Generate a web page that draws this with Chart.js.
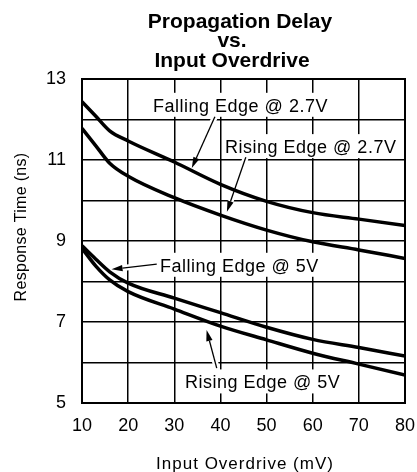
<!DOCTYPE html>
<html>
<head>
<meta charset="utf-8">
<script src="https://cdn.jsdelivr.net/npm/chart.js@4.4.1/dist/chart.umd.min.js"></script>
<style>
  html, body { margin: 0; padding: 0; background: #fff; }
  #chart { display: block; }
</style>
</head>
<body>
<canvas id="chart" width="417" height="472"></canvas>
<script>
// values
const overdrive = [10, 13, 16, 20, 30, 40, 50, 60, 70, 80];
const falling27 = [12.44, 12.08, 11.72, 11.47, 10.95, 10.40, 9.98, 9.70, 9.54, 9.38];
const rising27 = [11.78, 11.35, 10.92, 10.60, 10.07, 9.64, 9.27, 8.98, 8.78, 8.57];
const falling5 = [8.88, 8.55, 8.24, 7.96, 7.59, 7.23, 6.87, 6.57, 6.37, 6.16];
const rising5 = [8.82, 8.38, 8.04, 7.75, 7.32, 6.90, 6.56, 6.23, 5.96, 5.69];
const xTicks = [10, 20, 30, 40, 50, 60, 70, 80];
const yTickLabels = [5, 7, 9, 11, 13];

// callout text (left, baseline) and arrow tail -> tip, in axis units
const callouts = [
  { text: 'Falling Edge @ 2.7V', at: [25.4, 12.19], from: [38.8, 12.07], to: [33.8, 10.80] },
  { text: 'Rising Edge @ 2.7V', at: [41.0, 11.17], from: [45.5, 11.07], to: [41.4, 9.72] },
  { text: 'Falling Edge @ 5V', at: [26.9, 8.24], from: [26.2, 8.43], to: [16.4, 8.30] },
  { text: 'Rising Edge @ 5V', at: [32.3, 5.36], from: [39.2, 5.86], to: [37.0, 6.80] }
];

const labelFont = '18px "Liberation Sans", Arial, sans-serif';

function points(values) {
  return overdrive.map((x, i) => ({ x: x, y: values[i] }));
}

function line(ctx, x0, y0, x1, y1) {
  ctx.beginPath();
  ctx.moveTo(x0, y0);
  ctx.lineTo(x1, y1);
  ctx.stroke();
}

function arrowGeom(chart, c) {
  const { x, y } = chart.scales;
  const x0 = x.getPixelForValue(c.from[0]), y0 = y.getPixelForValue(c.from[1]);
  const x1 = x.getPixelForValue(c.to[0]), y1 = y.getPixelForValue(c.to[1]);
  const ang = Math.atan2(y1 - y0, x1 - x0);
  const len = 11, half = 3.2;
  const bx = x1 - Math.cos(ang) * len, by = y1 - Math.sin(ang) * len;
  const nx = -Math.sin(ang) * half, ny = Math.cos(ang) * half;
  return { x0, y0, x1, y1, bx, by, nx, ny };
}

// white boxes under the callouts and white halos round the arrows
const underlay = {
  id: 'underlay',
  beforeDatasetsDraw(chart) {
    const { ctx } = chart;
    const { x, y } = chart.scales;
    ctx.save();
    ctx.font = labelFont;
    ctx.letterSpacing = '0.5px';
    callouts.forEach(c => {
      const tx = x.getPixelForValue(c.at[0]), ty = y.getPixelForValue(c.at[1]);
      const w = ctx.measureText(c.text).width;
      ctx.fillStyle = '#fff';
      ctx.fillRect(tx - 3, ty - 19, w + 6, 24);
      const g = arrowGeom(chart, c);
      ctx.strokeStyle = '#fff';
      ctx.lineWidth = 6;
      line(ctx, g.x0, g.y0, g.bx, g.by);
    });
    ctx.restore();
  },
  afterDatasetsDraw(chart) {
    const { ctx, chartArea: a } = chart;
    const { x, y } = chart.scales;
    ctx.save();
    ctx.strokeStyle = '#000';
    ctx.lineWidth = 2;
    ctx.strokeRect(a.left, a.top, a.right - a.left, a.bottom - a.top);
    ctx.font = labelFont;
    ctx.letterSpacing = '0.5px';
    ctx.fillStyle = '#000';
    ctx.textBaseline = 'alphabetic';
    ctx.textAlign = 'left';
    callouts.forEach(c => {
      ctx.fillText(c.text, x.getPixelForValue(c.at[0]), y.getPixelForValue(c.at[1]));
      const g = arrowGeom(chart, c);
      ctx.lineWidth = 1.3;
      line(ctx, g.x0, g.y0, g.bx, g.by);
      ctx.beginPath();
      ctx.moveTo(g.x1, g.y1);
      ctx.lineTo(g.bx + g.nx, g.by + g.ny);
      ctx.lineTo(g.bx - g.nx, g.by - g.ny);
      ctx.closePath();
      ctx.fill();
    });
    ctx.restore();
  },
  afterDraw(chart) {
    const { ctx } = chart;
    ctx.save();
    ctx.fillStyle = '#000';
    ctx.textAlign = 'center';
    ctx.textBaseline = 'alphabetic';
    ctx.font = 'bold 21px "Liberation Sans", Arial, sans-serif';
    ctx.fillText('Propagation Delay', 240, 28);
    ctx.fillText('vs.', 232, 47);
    ctx.fillText('Input Overdrive', 232, 67);

    ctx.font = '17px "Liberation Sans", Arial, sans-serif';
    ctx.letterSpacing = '1px';
    ctx.fillText('Input Overdrive (mV)', 245, 469);

    ctx.letterSpacing = '0.3px';
    ctx.font = '16px "Liberation Sans", Arial, sans-serif';
    ctx.translate(26, 227);
    ctx.rotate(-Math.PI / 2);
    ctx.fillText('Response Time (ns)', 0, 0);
    ctx.restore();
  }
};

function series(values) {
  return {
    data: points(values),
    borderColor: '#000',
    borderWidth: 3.5,
    pointRadius: 0,
    fill: false,
    cubicInterpolationMode: 'monotone'
  };
}

const tickFont = { family: '"Liberation Sans", Arial, sans-serif', size: 18 };

new Chart(document.getElementById('chart'), {
  type: 'line',
  data: {
    datasets: [series(falling27), series(rising27), series(falling5), series(rising5)]
  },
  options: {
    responsive: false,
    animation: false,
    devicePixelRatio: 1,
    layout: { padding: { left: 0, right: 12, top: 79, bottom: 0 } },
    plugins: { legend: { display: false }, tooltip: { enabled: false } },
    scales: {
      x: {
        type: 'linear',
        min: 10,
        max: 80,
        afterBuildTicks: scale => { scale.ticks = xTicks.map(v => ({ value: v })); },
        afterFit: scale => {
          scale.height = 69;
          scale.paddingLeft = 0;
          scale.paddingRight = 0;
        },
        ticks: { color: '#000', font: tickFont, padding: 12, maxRotation: 0 },
        grid: { color: '#000', lineWidth: 1.5, drawTicks: false },
        border: { display: false }
      },
      y: {
        min: 5,
        max: 13,
        afterFit: scale => {
          scale.width = 82;
          scale.paddingTop = 0;
          scale.paddingBottom = 0;
        },
        ticks: {
          stepSize: 1,
          color: '#000',
          font: tickFont,
          padding: 16,
          callback: v => (yTickLabels.includes(v) ? String(v) : '')
        },
        grid: { color: '#000', lineWidth: 1.5, drawTicks: false },
        border: { display: false }
      }
    }
  },
  plugins: [underlay]
});
</script>
</body>
</html>
